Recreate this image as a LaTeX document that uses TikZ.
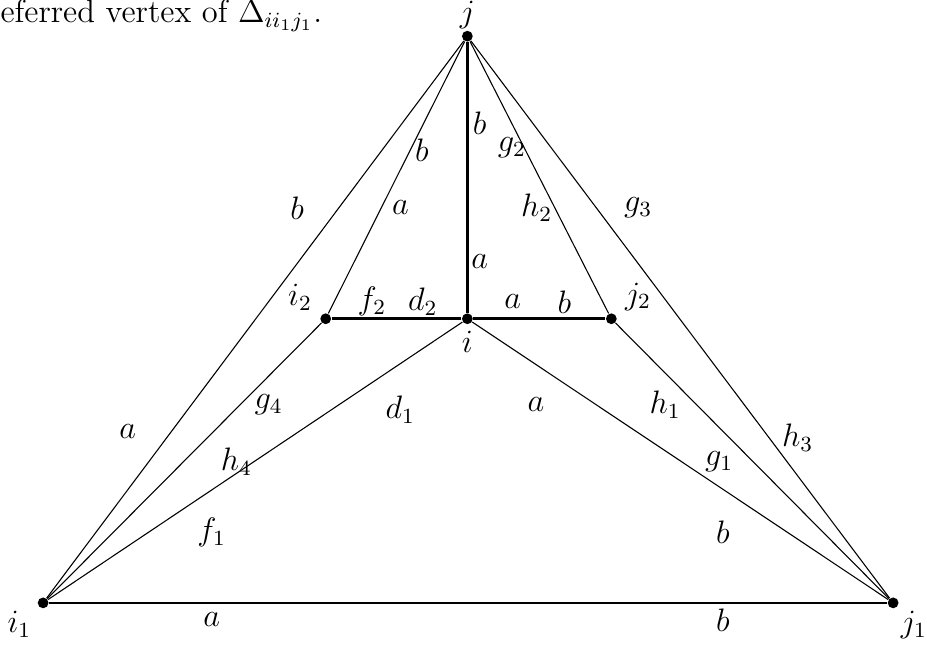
\documentclass[tikz,border=0pt]{standalone}
\usepackage{amsmath,amssymb}
\usepackage{tikz}
\usetikzlibrary{positioning}

\tikzset{
  vertex/.style={circle, fill=black, inner sep=0pt, minimum size=1.4mm},
  lbl/.style={inner sep=1pt}
}

\begin{document}
\begin{tikzpicture}[font=\large]
\useasboundingbox (0,0) rectangle (12.04,8.39);

% caption fragment at the top
\node[anchor=base west, inner sep=0pt] (cap) at (0,8.10) {eferred vertex of $\Delta_{ii_1j_1}$.};

% vertices
\node[vertex] (j) at (6.07,7.92) {};
\node[vertex] (i) at (6.07,4.25) {};
\node[vertex] (i2) at (4.23,4.25) {};
\node[vertex] (j2) at (7.94,4.25) {};
\node[vertex] (i1) at (0.56,0.56) {};
\node[vertex] (j1) at (11.60,0.56) {};

% vertex names
\node[above=-3pt of j] (jn) {$j$};
\node[below=-1pt of i] (in) {$i$};
\node[above left=-2pt and 0pt of i2] (i2n) {$i_2$};
\node[above right=-2pt and 0pt of j2] (j2n) {$j_2$};
\node[below left=-2pt and -0.7pt of i1] (i1n) {$i_1$};
\node[below right=-2pt and -2.2pt of j1] (j1n) {$j_1$};

% thick edges
\draw[line width=1pt] (i1) -- (j1);
\draw[line width=1pt] (i2) -- (i) -- (j2);
\draw[line width=1pt] (i) -- (j);

% thin edges
\draw[thin] (i1) -- (j);
\draw[thin] (i1) -- (i2) -- (j);
\draw[thin] (i1) -- (i);
\draw[thin] (j1) -- (j);
\draw[thin] (j1) -- (j2) -- (j);
\draw[thin] (j1) -- (i);

% edge labels
\foreach \p/\t/\n in {
    {2.75,0.34}/a/la1, {9.39,0.34}/b/lb1,
    {1.66,2.78}/a/la2, {3.86,5.69}/b/lb2,
    {5.20,5.70}/a/la3, {5.48,6.44}/b/lb3,
    {6.23,6.79}/b/lb4, {6.23,5.00}/a/la4,
    {6.65,6.47}/g_2/lg2, {6.97,5.69}/h_2/lh2, {8.29,5.69}/g_3/lg3,
    {4.83,4.47}/f_2/lf2, {5.49,4.47}/d_2/ld2,
    {6.66,4.47}/a/la5, {7.33,4.47}/b/lb5,
    {3.49,3.13}/g_4/lg4, {5.20,3.07}/d_1/ld1,
    {6.96,3.13}/a/la6, {8.64,3.13}/h_1/lh1,
    {10.36,2.71}/h_3/lh3, {3.07,2.39}/h_4/lh4,
    {9.34,2.39}/g_1/lg1, {2.75,1.48}/f_1/lf1,
    {9.39,1.48}/b/lb6} {
    \node[lbl] (\n) at (\p) {$\t$};
}
\end{tikzpicture}
\end{document}
